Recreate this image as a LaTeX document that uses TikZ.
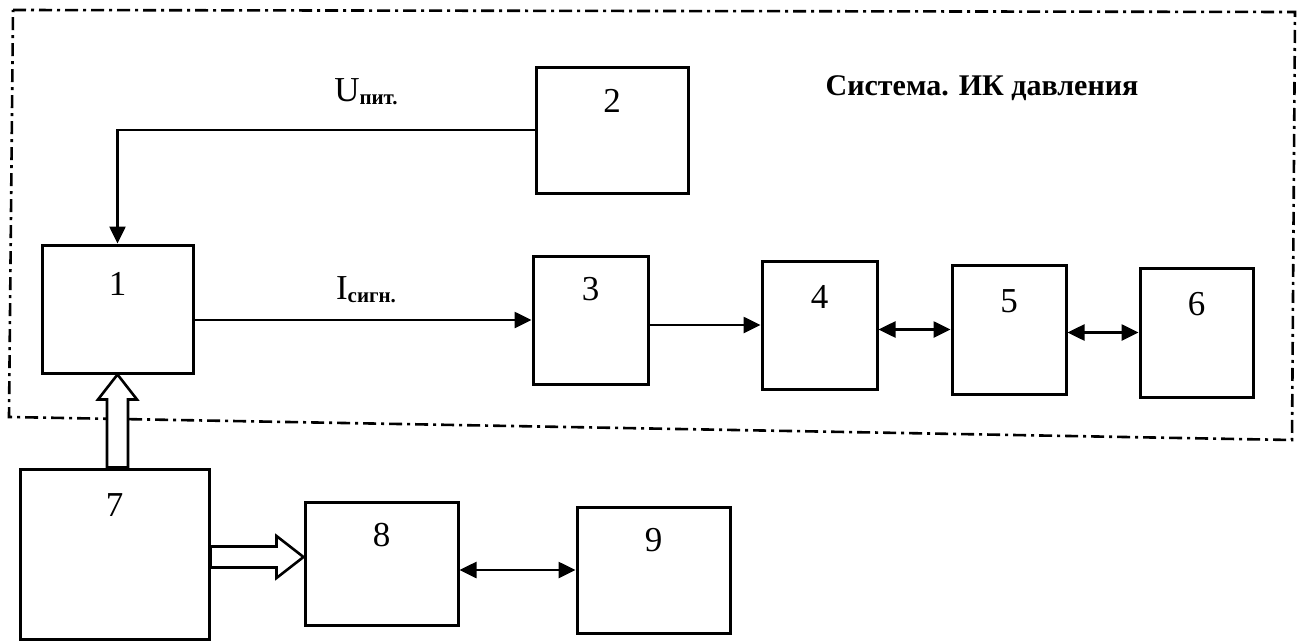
\documentclass[tikz,border=0pt]{standalone}
\usepackage{fontspec}
\setmainfont{Liberation Serif}
\usetikzlibrary{arrows.meta,calc}
\begin{document}
\begin{tikzpicture}[x=1pt,y=-1pt,
  box/.style={draw,line width=3pt,inner sep=0pt},
  num/.style={font=\fontsize{35}{35}\selectfont,inner sep=0pt},
  lbl/.style={font=\fontsize{35}{35}\selectfont,inner sep=0pt},
  arr/.style={line width=2.6pt,-{Triangle[length=17pt,width=16pt]}},
  darr/.style={line width=2.6pt,{Triangle[length=17pt,width=16pt]}-{Triangle[length=17pt,width=16pt]}},
  hollow/.style={draw,line width=2.6pt,fill=white,line join=miter},
  dashdot/.style={line width=2.6pt,dash pattern=on 13pt off 5pt on 3pt off 5pt}]
\useasboundingbox (0,0) rectangle (1300,642);
% system border
\draw[dashdot] (13,10) -- (1295,12) -- (1292,440) -- (9,417) -- cycle;
% boxes
\node[box,minimum width=151pt,minimum height=128pt] (b1) at (117.5,309) {};
\node[box,minimum width=152pt,minimum height=126pt] (b2) at (612,130) {};
\node[box,minimum width=115pt,minimum height=128pt] (b3) at (590.5,320) {};
\node[box,minimum width=115pt,minimum height=128pt] (b4) at (819.5,325) {};
\node[box,minimum width=114pt,minimum height=129pt] (b5) at (1009,329.5) {};
\node[box,minimum width=113pt,minimum height=129pt] (b6) at (1196.5,332.5) {};
\node[box,minimum width=189pt,minimum height=170pt] (b7) at (114.5,554) {};
\node[box,minimum width=153pt,minimum height=123pt] (b8) at (381.5,563.5) {};
\node[box,minimum width=153pt,minimum height=126pt] (b9) at (653.5,570) {};
% numbers
\node[num] (n1) at ([yshift=-40pt]b1.north) {1};
\node[num] (n2) at ([yshift=-35pt]b2.north) {2};
\node[num] (n3) at ([yshift=-35pt]b3.north) {3};
\node[num] (n4) at ([yshift=-37pt]b4.north) {4};
\node[num] (n5) at ([yshift=-38pt]b5.north) {5};
\node[num] (n6) at ([yshift=-38pt]b6.north) {6};
\node[num] (n7) at ([yshift=-38pt]b7.north) {7};
\node[num] (n8) at ([yshift=-35pt]b8.north) {8};
\node[num] (n9) at ([yshift=-35pt]b9.north) {9};
% title and labels
\node[font=\fontsize{30}{30}\selectfont\bfseries,inner sep=0pt] (title) at (982,88) {Система. ИК давления};
\node[lbl] (lu) at (366,92) {U\raisebox{-3pt}{\fontsize{21}{21}\selectfont\bfseries пит.}};
\node[lbl] (li) at (366,290) {I\raisebox{-3pt}{\fontsize{21}{21}\selectfont\bfseries сигн.}};
% connectors
\draw[arr] (b2.west) -| (b1.north);
\draw[arr] (b1.east |- b3.west) -- (b3.west);
\draw[arr] (b3.east |- b4.west) -- (b4.west);
\draw[darr] (b4.east |- b5.west) -- (b5.west);
\draw[darr] (b5.east |- b6.west) -- (b6.west);
\draw[darr] (b8.east |- b9.west) -- (b9.west);
% hollow arrow 7 -> 1
\coordinate (t1) at (b1.south);
\coordinate (s1) at (b1.south |- b7.north);
\draw[hollow] (t1) -- ($(t1)+(19.5,25)$) -- ($(t1)+(10.5,25)$) -- ($(s1)+(10.5,0)$)
  -- ($(s1)+(-10.5,0)$) -- ($(t1)+(-10.5,25)$) -- ($(t1)+(-19.5,25)$) -- cycle;
% hollow arrow 7 -> 8
\coordinate (t2) at (b8.west |- 0,557);
\coordinate (s2) at (b7.east |- t2);
\draw[hollow] (t2) -- ($(t2)+(-27,21)$) -- ($(t2)+(-27,10.5)$) -- ($(s2)+(0,10.5)$)
  -- ($(s2)+(0,-10.5)$) -- ($(t2)+(-27,-10.5)$) -- ($(t2)+(-27,-21)$) -- cycle;
\end{tikzpicture}
\end{document}
